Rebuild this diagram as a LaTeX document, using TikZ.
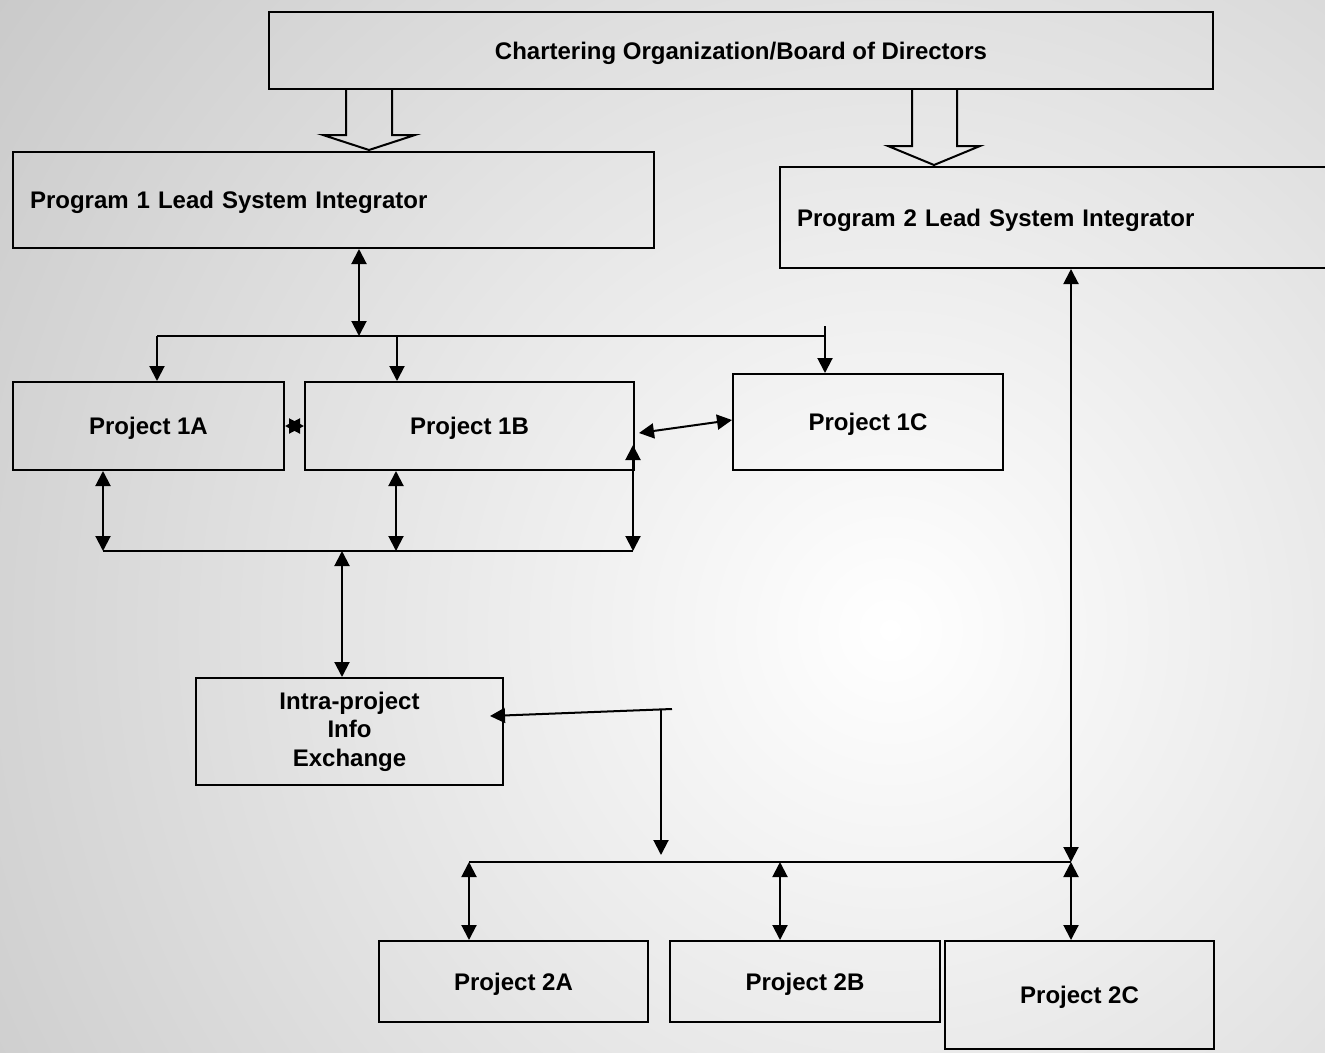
\documentclass[tikz,border=0pt]{standalone}
\usepackage{fontspec}
\setmainfont{Liberation Sans}
\usetikzlibrary{arrows.meta}
\begin{document}
\begin{tikzpicture}[x=1pt,y=-1pt,
  box/.style={draw, line width=2pt, inner sep=0pt, anchor=north west,
    font=\bfseries\fontsize{24}{28.5}\selectfont, align=center, text depth=0pt},
  conn/.style={line width=2pt},
  bi/.style={conn, {Triangle[length=15pt,width=15pt]}-{Triangle[length=15pt,width=15pt]}},
  uni/.style={conn, -{Triangle[length=15pt,width=15pt]}},
  blockarrow/.style={line width=2pt, line join=miter}
]
\useasboundingbox (0,0) rectangle (1325,1052);
\begin{scope}
  \clip (0,0) rectangle (1325,1052);
  \shade[inner color=white, outer color=black!38] (890,630) circle (2000);
\end{scope}

% boxes
\node[box, minimum width=944pt, minimum height=77pt] (top) at (268,11) {Chartering Organization/Board of Directors};
\node[box, minimum height=96pt, text width=607pt, inner xsep=17pt, align=left] (p1) at (12,151) {Program 1 Lead System Integrator};
\node[box, minimum height=101pt, text width=526pt, inner xsep=17pt, align=left] (p2) at (779,166) {Program 2 Lead System Integrator};
\node[box, minimum width=271pt, minimum height=88pt] (a1) at (12,381) {Project 1A};
\node[box, minimum width=329pt, minimum height=88pt] (b1) at (304,381) {Project 1B};
\node[box, minimum width=270pt, minimum height=96pt] (c1) at (732,373) {Project 1C};
\node[box, minimum width=307pt, minimum height=107pt, text depth=] (ix) at (195,677) {Intra-project\\Info\\Exchange};
\node[box, minimum width=269pt, minimum height=81pt] (a2) at (378,940) {Project 2A};
\node[box, minimum width=270pt, minimum height=81pt] (b2) at (669,940) {Project 2B};
\node[box, minimum width=269pt, minimum height=108pt] (c2) at (944,940) {Project 2C};

% block arrows
\draw[blockarrow] (346,88) -- (346,135) -- (323,135) -- (369,150) -- (415,135) -- (392,135) -- (392,88);
\draw[blockarrow] (912,88) -- (912,146) -- (888,146) -- (934,165) -- (980,146) -- (957,146) -- (957,88);

% program 1 bus
\coordinate (j1) at (359,336);
\coordinate (bl) at (157,336);
\coordinate (bm) at (397,336);
\coordinate (br) at (825,336);
\coordinate (brt) at (825,326);
\draw[bi] (p1.south -| j1) -- (j1);
\draw[conn] (bl) -- (br);
\draw[uni] (bl) -- (bl |- a1.north);
\draw[uni] (bm) -- (bm |- b1.north);
\draw[uni] (brt) -- (brt |- c1.north);

% between projects
\draw[bi] (a1.east) -- (b1.west);
\draw[bi] ([shift={(4,7)}]b1.east) -- ([shift={(0,-2)}]c1.west);

% lower bus
\coordinate (l1) at (103,551);
\coordinate (l2) at (396,551);
\coordinate (l3) at (633,551);
\coordinate (l4) at (342,551);
\draw[conn] (l1) -- (l3);
\draw[bi] (l1 |- a1.south) -- (l1);
\draw[bi] (l2 |- b1.south) -- (l2);
\draw[bi] (633,445) -- (l3);
\draw[bi] (l4) -- (l4 |- ix.north);

% intra to program 2 bus
\coordinate (ie) at (672,709);
\coordinate (iv) at (661,709);
\draw[uni] (ie) -- (490,716);
\draw[uni] (iv) -- (661,855);

% program 2 bus
\coordinate (m1) at (469,862);
\coordinate (m2) at (780,862);
\coordinate (m3) at (1071,862);
\draw[conn] (m1) -- (m3);
\draw[bi] (p2.south -| m3) -- (m3);
\draw[bi] (m1) -- (m1 |- a2.north);
\draw[bi] (m2) -- (m2 |- b2.north);
\draw[bi] (m3) -- (m3 |- c2.north);
\end{tikzpicture}
\end{document}
